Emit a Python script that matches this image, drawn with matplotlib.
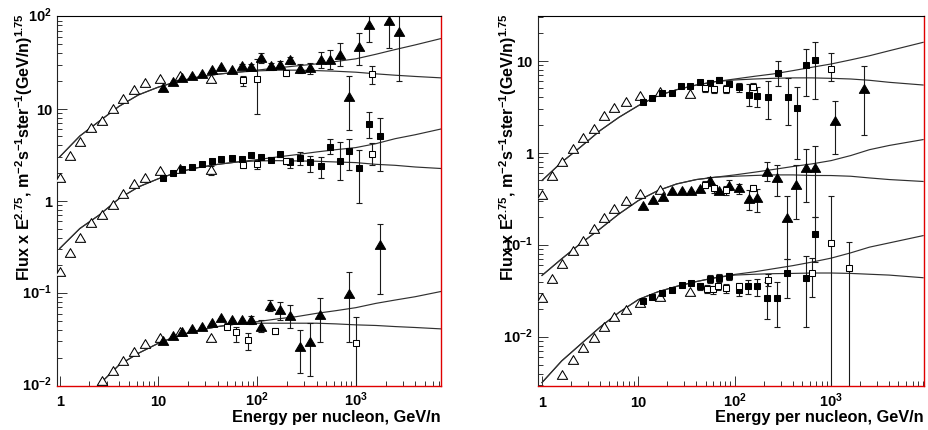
import numpy as np
import matplotlib
matplotlib.use('Agg')
import matplotlib.pyplot as plt
from matplotlib.ticker import FixedLocator, NullFormatter, LogLocator
from matplotlib.transforms import blended_transform_factory, offset_copy
from matplotlib.path import Path

plt.rcParams.update({
    'font.family': ['Liberation Sans', 'DejaVu Sans'],
    'font.weight': 'bold',
    'mathtext.fontset': 'custom',
    'mathtext.rm': 'Liberation Sans:bold',
    'mathtext.bf': 'Liberation Sans:bold',
    'mathtext.it': 'Liberation Sans:bold',
    'mathtext.sf': 'Liberation Sans:bold',
    'mathtext.default': 'bf',
})

# ---------------- data : left panel ----------------
TRI_E = [1.0, 1.28, 1.62, 2.09, 2.69, 3.47, 4.35, 5.62, 7.38, 10.5, 16.7, 34.2]

L_top_otri_F = [1.79, 3.04, 4.34, 6.15, 7.38, 9.96, 12.8, 16.1, 19.0, 21.0, 22.4, 21.0]
L_mid_otri_F = [0.168, 0.276, 0.398, 0.578, 0.70, 0.913, 1.20, 1.51, 1.79, 2.11, 2.24, 2.15]
L_mid_otri_lo = [0.168, 0.276, 0.398, 0.578, 0.70, 0.913, 1.20, 1.51, 1.79, 2.11, 2.24, 1.90]
L_mid_otri_hi = [0.168, 0.276, 0.398, 0.578, 0.70, 0.913, 1.20, 1.51, 1.79, 2.11, 2.24, 2.40]
L_bot_otri_E = [2.69, 3.47, 4.35, 5.62, 7.38, 10.5, 16.7, 34.2]
L_bot_otri_F = [0.0113, 0.0142, 0.0186, 0.0233, 0.0282, 0.0325, 0.0384, 0.0325]

L_top_ftri_E = [11.1, 14.0, 17.5, 22.1, 27.7, 34.7, 43.5, 55.4, 69.9, 87.7, 110.7, 138.6,
                172, 218, 275, 347, 439, 554, 689, 856, 1081, 1365, 2160, 2750]
L_top_ftri_F = [16.7, 19.3, 21.5, 22.3, 24.0, 26.3, 28.1, 26.5, 29.0, 28.1, 35.5, 28.8,
                30.0, 33.2, 27.0, 27.6, 33.2, 33.7, 38.5, 13.3, 47, 81, 90, 67]
L_top_ftri_lo = [16.7, 19.3, 21.5, 22.3, 24.0, 26.3, 28.1, 26.5, 27.2, 26.0, 31.5, 26.3,
                 27.5, 30.5, 24.5, 24.0, 27.6, 27.0, 29.2, 5.8, 30.0, 52.4, 45.1, 20.1]
L_top_ftri_hi = [16.7, 19.3, 21.5, 22.3, 24.0, 26.3, 28.1, 26.5, 30.8, 30.5, 40.0, 31.5,
                 32.8, 36.5, 30.5, 31.0, 40.8, 43.0, 51.0, 22.4, 65.5, 150, 200, 200]

L_top_osq_E = [72.1, 100, 198, 1452]
L_top_osq_F = [20.5, 21.0, 24.4, 23.8]
L_top_osq_lo = [17.5, 8.8, 22.5, 18.6]
L_top_osq_hi = [22.5, 34.5, 26.0, 29.2]

L_mid_fsq_E = [11.1, 14.0, 17.5, 22.1, 27.7, 34.7, 43.5, 55.4, 69.9, 87.7, 110.7, 138.6,
               172, 218, 275, 347, 439, 543, 689, 856, 1081, 1365, 1740]
L_mid_fsq_F = [1.79, 2.01, 2.24, 2.33, 2.54, 2.69, 2.87, 2.92, 2.85, 3.12, 3.02, 2.80,
               3.20, 2.64, 2.92, 2.61, 2.37, 3.84, 2.69, 3.50, 2.27, 6.8, 5.05]
L_mid_fsq_lo = [1.79, 2.01, 2.24, 2.33, 2.54, 2.69, 2.87, 2.92, 2.85, 3.12, 3.02, 2.62,
                3.0, 2.3, 2.45, 2.05, 1.79, 3.2, 1.67, 2.15, 0.96, 4.8, 2.1]
L_mid_fsq_hi = [1.79, 2.01, 2.24, 2.33, 2.54, 2.69, 2.87, 2.92, 2.85, 3.12, 3.02, 3.0,
                3.4, 2.95, 3.35, 3.1, 3.0, 4.65, 4.35, 4.72, 3.53, 9.3, 7.9]

L_mid_osq_E = [72.1, 100, 198, 1452]
L_mid_osq_F = [2.47, 2.54, 2.72, 3.25]
L_mid_osq_lo = [2.3, 2.2, 2.5, 2.43]
L_mid_osq_hi = [2.6, 2.8, 2.9, 4.27]

L_bot_ftri_E = [11.1, 14.0, 17.5, 22.1, 27.7, 34.7, 43.5, 55.4, 69.9, 87.7, 110.7, 136,
                172, 218, 275, 347, 429, 850, 1740]
L_bot_ftri_F = [0.0304, 0.0344, 0.0384, 0.041, 0.0435, 0.0472, 0.0543, 0.0508, 0.051, 0.051,
                0.0435, 0.0733, 0.0658, 0.0571, 0.0264, 0.0294, 0.058, 0.097, 0.332]
L_bot_ftri_lo = [0.0304, 0.0344, 0.0384, 0.041, 0.0435, 0.0472, 0.0543, 0.0508, 0.051, 0.046,
                 0.0384, 0.0636, 0.0508, 0.0417, 0.0137, 0.0126, 0.0297, 0.0297, 0.098]
L_bot_ftri_hi = [0.0304, 0.0344, 0.0384, 0.041, 0.0435, 0.0472, 0.0543, 0.0508, 0.051, 0.057,
                 0.0507, 0.0845, 0.0793, 0.0744, 0.0396, 0.0475, 0.088, 0.168, 0.56]

L_bot_osq_E = [49.6, 60.8, 81, 153, 1007]
L_bot_osq_F = [0.0435, 0.0384, 0.0312, 0.039, 0.0287]
L_bot_osq_lo = [0.041, 0.0297, 0.0245, 0.036, 0.005]
L_bot_osq_hi = [0.047, 0.0435, 0.0371, 0.042, 0.0558]

L_CURVE_E = [1, 1.6, 2.5, 4, 6.3, 10, 16, 25, 40, 63, 100, 160, 250, 400, 630, 1000, 1600, 2500, 4000, 7500]
L_top_up = [3.0, 5.05, 7.26, 10.6, 14.1, 17.1, 19.8, 21.9, 23.6, 24.8, 26.1, 27.6, 29.0, 30.5, 32.4,
            34.6, 38.8, 43.6, 49.0, 57.8]
L_top_lo = [3.0, 5.05, 7.26, 10.6, 14.1, 17.1, 19.8, 21.9, 23.6, 24.8, 25.6, 26.1, 26.1, 25.8, 25.4,
            24.8, 23.8, 23.0, 22.3, 21.5]
L_mid_up = [0.305, 0.502, 0.70, 1.06, 1.42, 1.74, 2.06, 2.29, 2.49, 2.64, 2.80, 2.99, 3.17, 3.39, 3.59,
            3.78, 4.17, 4.72, 5.21, 6.05]
L_mid_lo = [0.305, 0.502, 0.70, 1.06, 1.42, 1.74, 2.06, 2.29, 2.49, 2.64, 2.71, 2.73, 2.71, 2.69, 2.64,
            2.60, 2.49, 2.43, 2.33, 2.24]
L_BOT_CURVE_E = [2.0, 2.5, 4, 6.3, 10, 16, 25, 40, 63, 100, 160, 250, 400, 630, 1000, 1600, 2500, 4000, 7500]
L_bot_up = [0.0082, 0.0102, 0.0167, 0.0224, 0.0287, 0.0348, 0.0394, 0.0435, 0.0465, 0.0492, 0.0526,
            0.0557, 0.0605, 0.0647, 0.0697, 0.0776, 0.0843, 0.0916, 0.105]
L_bot_lo = [0.0082, 0.0102, 0.0167, 0.0224, 0.0287, 0.0348, 0.0394, 0.0435, 0.0465, 0.0473, 0.0473,
            0.0473, 0.0473, 0.0465, 0.0454, 0.0447, 0.0435, 0.0425, 0.041]

# ---------------- data : right panel ----------------
R_top_otri_F = [0.344, 0.566, 0.80, 1.10, 1.44, 1.79, 2.49, 3.09, 3.53, 4.17, 4.54, 4.35]
R_mid_otri_E = [1.0, 1.28, 1.62, 2.09, 2.69, 3.47, 4.35, 5.62, 7.38, 10.5, 16.7]
R_mid_otri_F = [0.0264, 0.0422, 0.0613, 0.0855, 0.110, 0.147, 0.195, 0.246, 0.296, 0.358, 0.395]
R_bot_otri_E = [1.62, 2.09, 2.69, 3.47, 4.35, 5.62, 7.38, 10.5, 16.7, 34.2]
R_bot_otri_F = [0.0039, 0.00567, 0.00759, 0.00973, 0.0128, 0.0164, 0.0194, 0.0236, 0.0271, 0.0307]

R_top_fsq_E = [11.1, 14.0, 17.5, 22.2, 27.7, 34.4, 43.7, 54.7, 69.3, 87.4, 111, 139, 172, 219, 278,
               353, 441, 551, 684]
R_top_fsq_F = [3.59, 3.9, 4.45, 4.4, 5.27, 5.27, 5.92, 5.73, 6.17, 5.62, 5.14, 4.28, 4.17, 4.07, 7.41,
               4.07, 3.04, 9.05, 10.2]
R_top_fsq_lo = [3.59, 3.9, 4.45, 4.4, 5.27, 5.27, 5.92, 5.35, 5.75, 5.2, 4.6, 3.25, 3.12, 2.33, 5.35,
                2.0, 0.86, 4.17, 3.84]
R_top_fsq_hi = [3.59, 3.9, 4.45, 4.4, 5.27, 5.27, 5.92, 6.1, 6.6, 6.05, 5.7, 5.58, 5.14, 6.07, 9.83,
                6.44, 5.14, 13.4, 16.0]

R_top_osq_E = [49.3, 61.1, 80.8, 153, 995]
R_top_osq_F = [5.01, 4.9, 4.9, 5.23, 8.13]
R_top_osq_lo = [4.6, 4.5, 4.4, 4.8, 6.07]
R_top_osq_hi = [5.4, 5.3, 5.4, 5.7, 12.0]

R_top_ftri_E = [1086, 2220]
R_top_ftri_F = [2.23, 4.93]
R_top_ftri_lo = [0.97, 1.54]
R_top_ftri_hi = [3.62, 8.83]

R_mid_ftri_E = [11.1, 14.1, 17.8, 22.2, 28.2, 35.0, 43.7, 55.6, 69.4, 87.5, 111, 139, 172, 215, 273,
                347, 434, 551, 684]
R_mid_ftri_F = [0.267, 0.310, 0.335, 0.389, 0.383, 0.389, 0.406, 0.491, 0.383, 0.441, 0.412, 0.316,
                0.324, 0.625, 0.53, 0.197, 0.448, 0.679, 0.679]
R_mid_ftri_lo = [0.267, 0.310, 0.335, 0.389, 0.383, 0.389, 0.406, 0.44, 0.383, 0.39, 0.36, 0.237,
                 0.228, 0.49, 0.34, 0.0706, 0.19, 0.29, 0.2]
R_mid_ftri_hi = [0.267, 0.310, 0.335, 0.389, 0.383, 0.389, 0.406, 0.55, 0.383, 0.5, 0.46, 0.39,
                 0.405, 0.79, 0.73, 0.34, 0.73, 1.1, 1.17]

R_mid_osq_E = [49.3, 61.1, 80.8, 154]
R_mid_osq_F = [0.45, 0.41, 0.39, 0.416]
R_mid_osq_lo = [0.41, 0.37, 0.35, 0.38]
R_mid_osq_hi = [0.49, 0.45, 0.44, 0.45]

R_bot_fsq_E = [11.1, 13.8, 17.5, 22.2, 28.2, 35.0, 43.7, 55.6, 69.4, 87.5, 111, 137, 172, 215, 273,
               347, 551, 684]
R_bot_fsq_F = [0.0243, 0.0271, 0.0302, 0.0326, 0.0369, 0.0388, 0.0354, 0.0429, 0.0436, 0.0458, 0.032,
               0.0354, 0.0354, 0.0267, 0.0267, 0.0493, 0.044, 0.132]
R_bot_fsq_lo = [0.0243, 0.0271, 0.0302, 0.0326, 0.0369, 0.0388, 0.032, 0.039, 0.040, 0.042, 0.028,
                0.029, 0.028, 0.0155, 0.0128, 0.0264, 0.0128, 0.0645]
R_bot_fsq_hi = [0.0243, 0.0271, 0.0302, 0.0326, 0.0369, 0.0388, 0.039, 0.047, 0.048, 0.050, 0.036,
                0.042, 0.043, 0.0394, 0.0394, 0.0706, 0.0755, 0.20]

R_bot_osq_E = [51.3, 60.1, 67.8, 81.4, 112, 219, 631, 1002, 1517]
R_bot_osq_F = [0.0334, 0.0328, 0.0357, 0.0339, 0.0357, 0.0418, 0.0498, 0.105, 0.056]
R_bot_osq_lo = [0.030, 0.029, 0.032, 0.030, 0.032, 0.036, 0.0274, 0.001, 0.001]
R_bot_osq_hi = [0.037, 0.036, 0.039, 0.038, 0.039, 0.048, 0.0712, 0.343, 0.107]

R_CURVE_E = [1, 1.6, 2.5, 4, 6.3, 10, 16, 25, 40, 63, 100, 160, 250, 400, 630, 1000, 1600, 2500, 4000, 9000]
R_top_up = [0.50, 0.79, 1.15, 1.74, 2.43, 3.25, 4.17, 4.84, 5.44, 5.92, 6.32, 6.76, 7.17, 7.79, 8.47,
            9.2, 10.2, 11.3, 12.8, 15.8]
R_top_lo = [0.50, 0.79, 1.15, 1.74, 2.43, 3.25, 4.17, 4.84, 5.44, 5.92, 6.17, 6.32, 6.43, 6.5, 6.5,
            6.43, 6.32, 6.12, 5.82, 5.44]
R_mid_up = [0.0466, 0.0706, 0.103, 0.149, 0.217, 0.303, 0.389, 0.459, 0.512, 0.543, 0.575, 0.615,
            0.658, 0.709, 0.757, 0.822, 0.933, 1.08, 1.20, 1.39]
R_mid_lo = [0.0466, 0.0706, 0.103, 0.149, 0.217, 0.303, 0.389, 0.459, 0.512, 0.543, 0.556, 0.567,
            0.575, 0.575, 0.567, 0.566, 0.556, 0.533, 0.512, 0.488]
R_bot_up = [0.0032, 0.0055, 0.0083, 0.0128, 0.0185, 0.0255, 0.031, 0.0355, 0.040, 0.044, 0.0478,
            0.051, 0.055, 0.0595, 0.065, 0.0718, 0.082, 0.0945, 0.105, 0.126]
R_bot_lo = [0.0032, 0.0055, 0.0083, 0.0128, 0.0185, 0.0255, 0.031, 0.0355, 0.040, 0.044, 0.047,
            0.048, 0.0487, 0.049, 0.0495, 0.0495, 0.049, 0.048, 0.047, 0.044]

X_TICKS = [1, 10, 100, 1000]
L_Y_TICKS = [0.01, 0.1, 1, 10, 100]
R_Y_TICKS = [0.01, 0.1, 1, 10]
XLABEL = 'Energy per nucleon, GeV/n'
YLABEL = 'Flux x E$^{2.75}$, m$^{-2}$s$^{-1}$ster$^{-1}$(GeV/n)$^{1.75}$'

# ---------------- figure ----------------
W, H = 929, 431
fig = plt.figure(figsize=(W / 100, H / 100), dpi=100)


def axes_px(x0, x1, y0, y1):
    return fig.add_axes([x0 / W, 1 - y1 / H, (x1 - x0) / W, (y1 - y0) / H])


TRI = Path([(-1, -0.75), (1, -0.75), (0, 0.95), (-1, -0.75)],
           [Path.MOVETO, Path.LINETO, Path.LINETO, Path.CLOSEPOLY])
LINE_C = '#303030'
ERR_C = '#1a1a1a'


def series(ax, E, F, lo=None, hi=None, marker='tri', filled=True):
    E = np.asarray(E, float)
    F = np.asarray(F, float)
    if lo is not None:
        lo = np.asarray(lo, float)
        hi = np.asarray(hi, float)
        m = (lo < F) | (hi > F)
        if m.any():
            ax.errorbar(E[m], F[m], yerr=[F[m] - lo[m], hi[m] - F[m]], fmt='none',
                        ecolor=ERR_C, elinewidth=0.8, capsize=1.9, capthick=0.8, zorder=2)
    if marker == 'tri':
        mk, ms = TRI, 7.4
    else:
        mk, ms = 's', 5.0
    ax.plot(E, F, linestyle='none', marker=mk, markersize=ms,
            markerfacecolor='black' if filled else 'white',
            markeredgecolor='black', markeredgewidth=0.75, zorder=3)


def curve(ax, E, F):
    ax.plot(E, F, color=LINE_C, lw=0.85, zorder=1.5)


def tick_label(v):
    e = int(round(np.log10(v)))
    if e == 0:
        return '1'
    if e == 1:
        return '10'
    return r'$10^{%d}$' % e


def setup(ax, xlim, ylim, yticks):
    ax.set_xscale('log')
    ax.set_yscale('log')
    ax.set_xlim(*xlim)
    ax.set_ylim(*ylim)
    for axis, maj in ((ax.xaxis, X_TICKS), (ax.yaxis, yticks)):
        axis.set_major_locator(FixedLocator(maj))
        axis.set_minor_locator(LogLocator(base=10, subs=np.arange(2, 10), numticks=30))
        axis.set_major_formatter(NullFormatter())
        axis.set_minor_formatter(NullFormatter())
    ax.tick_params(which='major', direction='in', length=7, width=0.7, color='#333333',
                   top=False, right=False)
    ax.tick_params(which='minor', direction='in', length=3.8, width=0.7, color='#333333',
                   top=False, right=False)
    ax.spines['top'].set_color('black')
    ax.spines['left'].set_color('#222222')
    ax.spines['top'].set_linewidth(0.8)
    ax.spines['left'].set_linewidth(0.8)
    ax.spines['bottom'].set_color('#e00000')
    ax.spines['right'].set_color('#e00000')
    ax.spines['bottom'].set_linewidth(1.0)
    ax.spines['right'].set_linewidth(1.0)
    ax.set_zorder(1)
    # tick labels as texts placed through the axis transforms
    bx = blended_transform_factory(ax.transData, ax.transAxes)
    tx = offset_copy(bx, fig=fig, x=0, y=-20, units='dots')
    for v in X_TICKS:
        ax.text(v, 0, tick_label(v), transform=tx, ha='center', va='baseline',
                fontsize=10.5, fontweight='bold', clip_on=False)
    by = blended_transform_factory(ax.transAxes, ax.transData)
    ty = offset_copy(by, fig=fig, x=-5.5, y=-5.0, units='dots')
    for v in yticks:
        ax.text(0, v, tick_label(v), transform=ty, ha='right', va='baseline',
                fontsize=10.5, fontweight='bold', clip_on=False)


axL = axes_px(57.5, 441, 17.3, 386.5)
axR = axes_px(538.3, 924, 17.3, 386.7)
setup(axL, (0.95, 7300), (0.01, 100), L_Y_TICKS)
setup(axR, (0.915, 9200), (0.00296, 30.3), R_Y_TICKS)

# left panel
for up, lo in ((L_top_up, L_top_lo), (L_mid_up, L_mid_lo)):
    curve(axL, L_CURVE_E, up)
    curve(axL, L_CURVE_E, lo)
curve(axL, L_BOT_CURVE_E, L_bot_up)
curve(axL, L_BOT_CURVE_E, L_bot_lo)

series(axL, TRI_E, L_top_otri_F, filled=False)
series(axL, TRI_E, L_mid_otri_F, L_mid_otri_lo, L_mid_otri_hi, filled=False)
series(axL, L_bot_otri_E, L_bot_otri_F, filled=False)
series(axL, L_top_ftri_E, L_top_ftri_F, L_top_ftri_lo, L_top_ftri_hi)
series(axL, L_top_osq_E, L_top_osq_F, L_top_osq_lo, L_top_osq_hi, marker='sq', filled=False)
series(axL, L_mid_fsq_E, L_mid_fsq_F, L_mid_fsq_lo, L_mid_fsq_hi, marker='sq')
series(axL, L_mid_osq_E, L_mid_osq_F, L_mid_osq_lo, L_mid_osq_hi, marker='sq', filled=False)
series(axL, L_bot_ftri_E, L_bot_ftri_F, L_bot_ftri_lo, L_bot_ftri_hi)
series(axL, L_bot_osq_E, L_bot_osq_F, L_bot_osq_lo, L_bot_osq_hi, marker='sq', filled=False)

# right panel
for up, lo in ((R_top_up, R_top_lo), (R_mid_up, R_mid_lo), (R_bot_up, R_bot_lo)):
    curve(axR, R_CURVE_E, up)
    curve(axR, R_CURVE_E, lo)

series(axR, TRI_E, R_top_otri_F, filled=False)
series(axR, R_mid_otri_E, R_mid_otri_F, filled=False)
series(axR, R_bot_otri_E, R_bot_otri_F, filled=False)
series(axR, R_top_fsq_E, R_top_fsq_F, R_top_fsq_lo, R_top_fsq_hi, marker='sq')
series(axR, R_top_osq_E, R_top_osq_F, R_top_osq_lo, R_top_osq_hi, marker='sq', filled=False)
series(axR, R_top_ftri_E, R_top_ftri_F, R_top_ftri_lo, R_top_ftri_hi)
series(axR, R_mid_ftri_E, R_mid_ftri_F, R_mid_ftri_lo, R_mid_ftri_hi)
series(axR, R_mid_osq_E, R_mid_osq_F, R_mid_osq_lo, R_mid_osq_hi, marker='sq', filled=False)
series(axR, R_bot_fsq_E, R_bot_fsq_F, R_bot_fsq_lo, R_bot_fsq_hi, marker='sq')
series(axR, R_bot_osq_E, R_bot_osq_F, R_bot_osq_lo, R_bot_osq_hi, marker='sq', filled=False)

# axis titles
for xr in (441, 924):
    fig.text(xr / W, 1 - 418 / H, XLABEL, ha='right', va='center', fontsize=11.8, fontweight='bold')
for xc in (24, 508):
    fig.text(xc / W, 1 - 13 / H, YLABEL, rotation=90, ha='center', va='top',
             fontsize=11.6, fontweight='bold')

fig.savefig('out.png', dpi=100)
